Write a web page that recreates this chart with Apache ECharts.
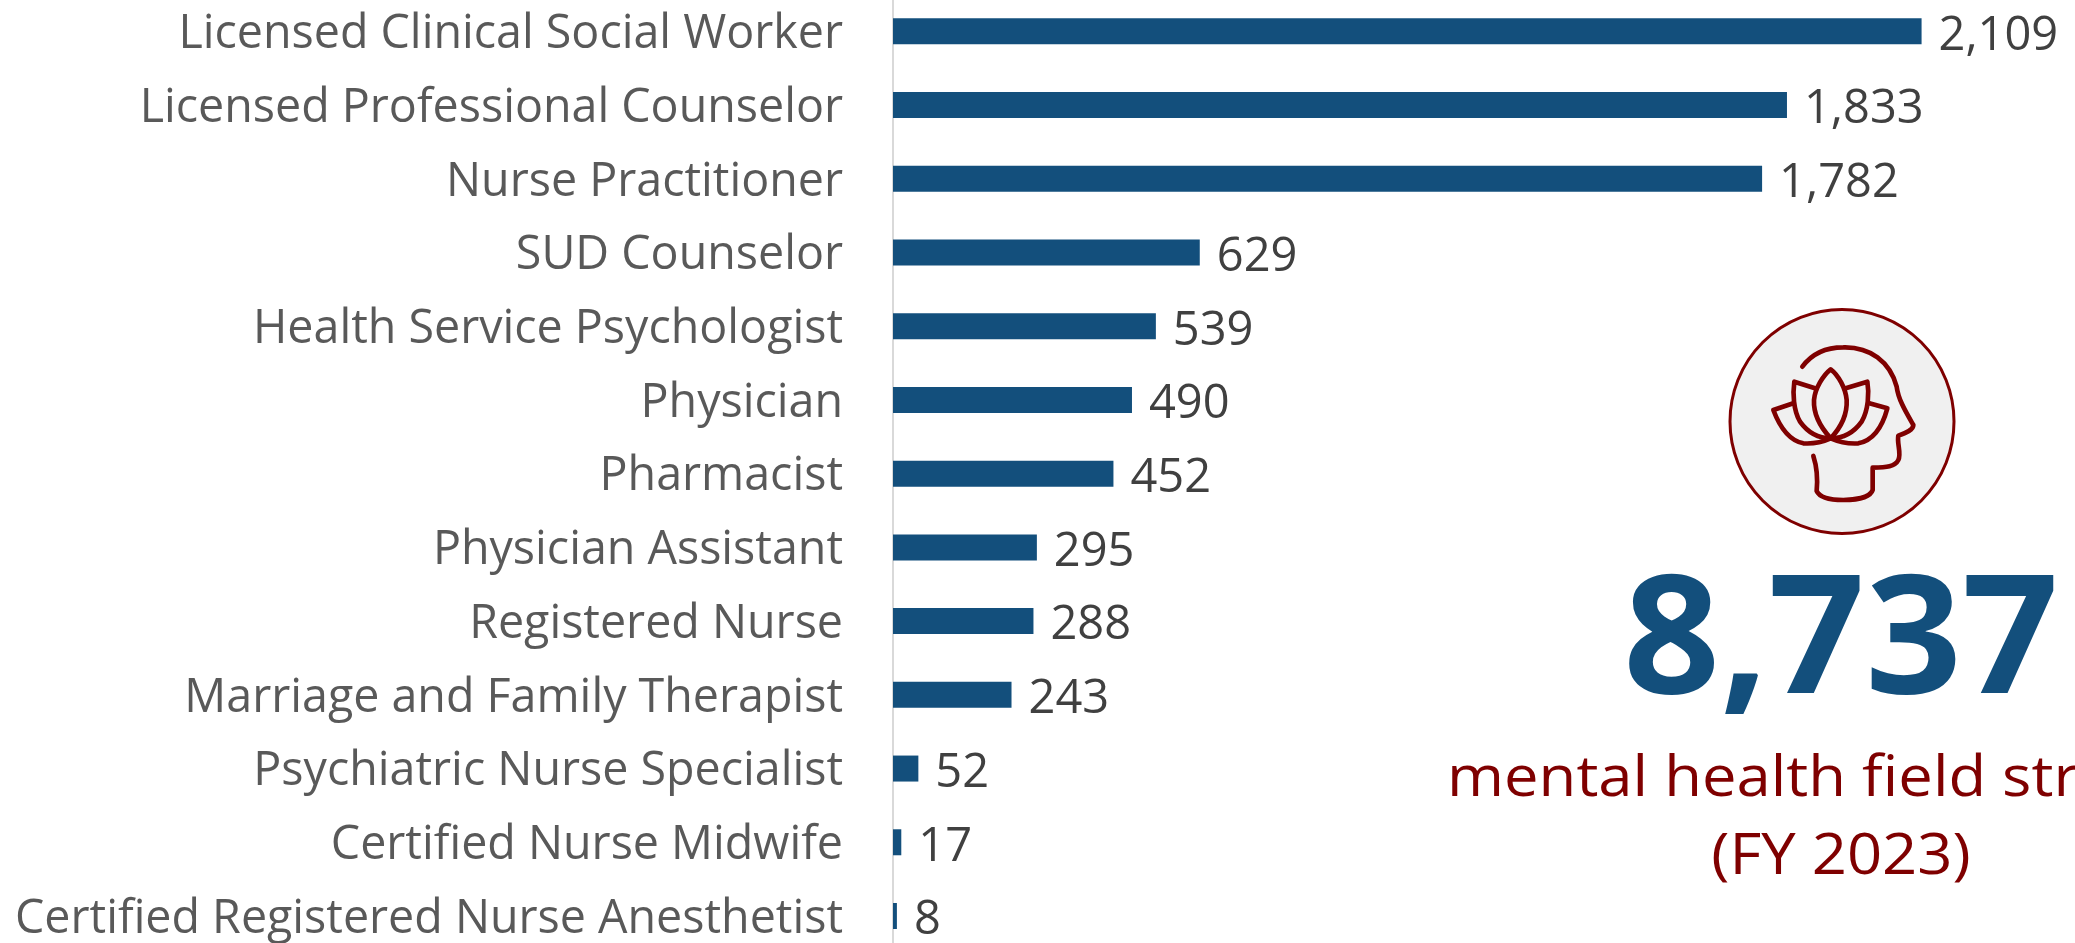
<!DOCTYPE html>
<html>
<head>
<meta charset="utf-8">
<style>
html, body { margin: 0; padding: 0; background: #fff; overflow: hidden; }
#main { width: 2075px; height: 943px; }
</style>
<script src="https://cdn.jsdelivr.net/npm/echarts@6/dist/echarts.min.js"></script>
</head>
<body>
<div id="main"></div>
<script>
var categories = [
    'Licensed Clinical Social Worker',
    'Licensed Professional Counselor',
    'Nurse Practitioner',
    'SUD Counselor',
    'Health Service Psychologist',
    'Physician',
    'Pharmacist',
    'Physician Assistant',
    'Registered Nurse',
    'Marriage and Family Therapist',
    'Psychiatric Nurse Specialist',
    'Certified Nurse Midwife',
    'Certified Registered Nurse Anesthetist'
];
var values = [2109, 1833, 1782, 629, 539, 490, 452, 295, 288, 243, 52, 17, 8];
var totalText = '8,737';
var captionLines = ['mental health field str', '(FY 2023)'];

var blue = '#134f7c';
var maroon = '#7f0000';
var font = 'Open Sans';

// lotus + head icon, drawn in a 900 wide box that is scaled down to 300
var iconPaths = [
    'M367 230 C400 185 450 172 490 172 C570 170 630 215 650 290 C655 330 680 370 700 405 C700 420 680 428 655 437 C650 460 665 490 655 510 C645 530 620 532 578 533 L578 600 C570 625 520 630 490 630 C460 630 420 625 410 603 C413 570 412 535 400 498',
    'M452 445 C420 410 400 370 402 330 C405 295 430 255 452 238 C475 255 497 295 500 330 C502 370 485 410 452 445 Z',
    'M405 295 L343 275 C338 310 340 360 360 395 C385 430 420 445 452 445',
    'M497 295 L562 275 C568 310 565 360 545 395 C520 430 485 445 452 445',
    'M340 340 L280 360 C295 400 320 450 370 460 C400 462 430 455 452 445',
    'M568 340 L622 355 C610 400 585 450 535 460 C505 462 475 455 452 445'
];

// graphic component has no plain 'path' type, so register each stroke as a shape
iconPaths.forEach(function(d, i) {
    echarts.graphic.registerShape('iconPath' + i, echarts.graphic.extendPath(d, {}));
});

var chart = echarts.init(document.getElementById('main'));

var graphics = [{
    // axis line runs past the first and last category, full height of the page
    type: 'line',
    shape: { x1: 893, y1: 0, x2: 893, y2: 943 },
    style: { stroke: '#d9d9d9', lineWidth: 2 },
    z: 0
}, {
    type: 'circle',
    shape: { cx: 1842, cy: 421.5, r: 112 },
    style: { fill: '#f0f0f0', stroke: maroon, lineWidth: 3 }
}, {
    type: 'group',
    x: 1680,
    y: 290,
    scaleX: 1 / 3,
    scaleY: 1 / 3,
    children: iconPaths.map(function(d, i) {
        return {
            type: 'iconPath' + i,
            style: { fill: null, stroke: maroon, lineWidth: 14, lineCap: 'round', lineJoin: 'round' }
        };
    })
}, {
    type: 'text',
    x: 1841,
    y: 646,
    scaleX: 1.02,
    style: {
        text: totalText,
        font: '700 166px ' + font,
        fill: blue,
        textAlign: 'center',
        textVerticalAlign: 'middle'
    }
}, {
    type: 'text',
    x: 1447,
    y: 780,
    scaleX: 1.1,
    style: {
        text: captionLines[0],
        font: '400 56px ' + font,
        fill: maroon,
        textAlign: 'left',
        textVerticalAlign: 'middle'
    }
}, {
    type: 'text',
    x: 1841,
    y: 858,
    scaleX: 1.1,
    style: {
        text: captionLines[1],
        font: '400 56px ' + font,
        fill: maroon,
        textAlign: 'center',
        textVerticalAlign: 'middle'
    }
}];

chart.setOption({
    animation: false,
    backgroundColor: '#fff',
    grid: { left: 893, top: 31.3, width: 1170.5, height: 885.7, containLabel: false },
    xAxis: {
        type: 'value',
        min: 0,
        max: 2400,
        show: false
    },
    yAxis: {
        type: 'category',
        inverse: true,
        boundaryGap: false,
        data: categories,
        axisTick: { show: false },
        axisLine: { show: false },
        axisLabel: {
            interval: 0,
            margin: 50,
            fontFamily: font,
            fontSize: 46.6,
            color: '#595959',
            // top aligned with a short line box, pushes the text down a few px
            verticalAlign: 'top',
            lineHeight: 7
        }
    },
    series: [{
        type: 'bar',
        data: values,
        barWidth: 26,
        clip: false,
        itemStyle: { color: blue },
        label: {
            show: true,
            position: 'right',
            distance: 17,
            offset: [0, 5],
            fontFamily: font,
            fontSize: 47,
            color: '#404040',
            formatter: function(p) {
                return p.value.toLocaleString('en-US');
            }
        }
    }],
    graphic: graphics
});
</script>
</body>
</html>
